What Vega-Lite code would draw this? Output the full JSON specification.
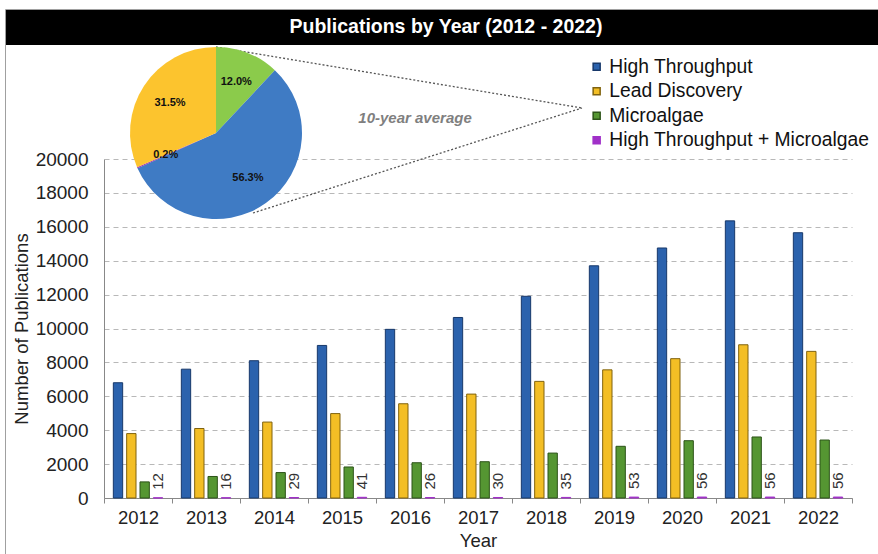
{
  "$schema": "https://vega.github.io/schema/vega-lite/v6.json",
  "width": 748,
  "height": 339,
  "autosize": {"type": "none"},
  "padding": {"left": 104, "top": 159, "right": 26, "bottom": 56},
  "background": "white",
  "config": {
    "view": {"stroke": null},
    "font": "Liberation Sans",
    "axisY": {
      "tickCount": 10,
      "format": "d",
      "ticks": false,
      "labelPadding": 16,
      "labelOverlap": false,
      "labelFontSize": 19,
      "labelColor": "#222",
      "titleFontSize": 18.5,
      "titleFontWeight": "normal",
      "titleColor": "#222",
      "titlePadding": 4,
      "domainColor": "#888",
      "grid": true,
      "gridDash": [5, 4],
      "gridColor": "#b8b8b8",
      "gridWidth": 1
    },
    "legend": {
      "orient": "none",
      "legendX": 483,
      "legendY": -102,
      "labelFontSize": 19.3,
      "labelColor": "#111",
      "labelFont": "Liberation Sans",
      "labelLimit": 0,
      "symbolType": "square",
      "symbolSize": 49,
      "rowPadding": 4.5,
      "labelOffset": 3
    }
  },
  "datasets": {
    "bars": [
      {"year": "2012", "series": "High Throughput", "count": 6800},
      {"year": "2012", "series": "Lead Discovery", "count": 3800},
      {"year": "2012", "series": "Microalgae", "count": 950},
      {"year": "2012", "series": "High Throughput + Microalgae", "count": 12},
      {"year": "2013", "series": "High Throughput", "count": 7600},
      {"year": "2013", "series": "Lead Discovery", "count": 4100},
      {"year": "2013", "series": "Microalgae", "count": 1270},
      {"year": "2013", "series": "High Throughput + Microalgae", "count": 16},
      {"year": "2014", "series": "High Throughput", "count": 8100},
      {"year": "2014", "series": "Lead Discovery", "count": 4480},
      {"year": "2014", "series": "Microalgae", "count": 1500},
      {"year": "2014", "series": "High Throughput + Microalgae", "count": 29},
      {"year": "2015", "series": "High Throughput", "count": 9000},
      {"year": "2015", "series": "Lead Discovery", "count": 4980},
      {"year": "2015", "series": "Microalgae", "count": 1830},
      {"year": "2015", "series": "High Throughput + Microalgae", "count": 41},
      {"year": "2016", "series": "High Throughput", "count": 9950},
      {"year": "2016", "series": "Lead Discovery", "count": 5560},
      {"year": "2016", "series": "Microalgae", "count": 2080},
      {"year": "2016", "series": "High Throughput + Microalgae", "count": 26},
      {"year": "2017", "series": "High Throughput", "count": 10650},
      {"year": "2017", "series": "Lead Discovery", "count": 6130},
      {"year": "2017", "series": "Microalgae", "count": 2140},
      {"year": "2017", "series": "High Throughput + Microalgae", "count": 30},
      {"year": "2018", "series": "High Throughput", "count": 11900},
      {"year": "2018", "series": "Lead Discovery", "count": 6880},
      {"year": "2018", "series": "Microalgae", "count": 2650},
      {"year": "2018", "series": "High Throughput + Microalgae", "count": 35},
      {"year": "2019", "series": "High Throughput", "count": 13700},
      {"year": "2019", "series": "Lead Discovery", "count": 7560},
      {"year": "2019", "series": "Microalgae", "count": 3050},
      {"year": "2019", "series": "High Throughput + Microalgae", "count": 53},
      {"year": "2020", "series": "High Throughput", "count": 14750},
      {"year": "2020", "series": "Lead Discovery", "count": 8220},
      {"year": "2020", "series": "Microalgae", "count": 3380},
      {"year": "2020", "series": "High Throughput + Microalgae", "count": 56},
      {"year": "2021", "series": "High Throughput", "count": 16350},
      {"year": "2021", "series": "Lead Discovery", "count": 9040},
      {"year": "2021", "series": "Microalgae", "count": 3600},
      {"year": "2021", "series": "High Throughput + Microalgae", "count": 56},
      {"year": "2022", "series": "High Throughput", "count": 15650},
      {"year": "2022", "series": "Lead Discovery", "count": 8650},
      {"year": "2022", "series": "Microalgae", "count": 3420},
      {"year": "2022", "series": "High Throughput + Microalgae", "count": 56}
    ],
    "pie": [
      {"series": "Microalgae", "share": 12.0, "label": "12.0%", "rank": 1},
      {"series": "High Throughput", "share": 56.3, "label": "56.3%", "rank": 2},
      {"series": "High Throughput + Microalgae", "share": 0.2, "label": "0.2%", "rank": 3},
      {"series": "Lead Discovery", "share": 31.5, "label": "31.5%", "rank": 4}
    ],
    "one": [{"k": 1}]
  },
  "resolve": {"scale": {"x": "independent", "color": "independent", "stroke": "independent"}},
  "layer": [
    {
      "data": {"name": "one"},
      "mark": {"type": "rect", "fill": "transparent", "stroke": "#a0a0a0", "strokeWidth": 1},
      "encoding": {
        "x": {"datum": 2010.0515, "type": "quantitative", "scale": {"domain": [2011.5, 2022.5], "nice": false, "zero": false}, "axis": null},
        "x2": {"datum": 2022.985},
        "y": {"datum": 28820, "type": "quantitative", "scale": {"domain": [0, 20000], "nice": false}},
        "y2": {"datum": -3658}
      }
    },
    {
      "data": {"name": "one"},
      "mark": {"type": "rect", "color": "#000000"},
      "encoding": {
        "x": {"datum": 2010.059, "type": "quantitative", "scale": {"domain": [2011.5, 2022.5], "nice": false, "zero": false}, "axis": null},
        "x2": {"datum": 2022.985},
        "y": {"datum": 28790.6, "type": "quantitative", "scale": {"domain": [0, 20000], "nice": false}},
        "y2": {"datum": 26725.7}
      }
    },
    {
      "data": {"name": "one"},
      "mark": {"type": "text", "text": "Publications by Year (2012 - 2022)", "color": "#ffffff", "fontSize": 19.5, "fontWeight": "bold", "font": "Liberation Sans", "align": "center", "baseline": "middle"},
      "encoding": {
        "x": {"datum": 2016.529, "type": "quantitative", "scale": {"domain": [2011.5, 2022.5], "nice": false, "zero": false}, "axis": null},
        "y": {"datum": 27787.6, "type": "quantitative", "scale": {"domain": [0, 20000], "nice": false}}
      }
    },
    {
      "data": {"name": "bars"},
      "mark": {"type": "bar", "strokeWidth": 1},
      "encoding": {
        "x": {
          "field": "year", "type": "ordinal",
          "scale": {"paddingInner": 0, "paddingOuter": 0},
          "axis": {
            "title": "Year", "labelAngle": 0, "tickBand": "extent",
            "labelFontSize": 18.5, "labelColor": "#222", "labelPadding": 5,
            "titleFontSize": 18.5, "titleFontWeight": "normal", "titleColor": "#222", "titlePadding": 5,
            "domainColor": "#888", "tickColor": "#888", "tickSize": 5
          }
        },
        "xOffset": {
          "field": "series", "type": "nominal",
          "scale": {"domain": ["High Throughput", "Lead Discovery", "Microalgae", "High Throughput + Microalgae"], "paddingInner": 0.3, "paddingOuter": 0.7}
        },
        "y": {
          "field": "count", "type": "quantitative",
          "scale": {"domain": [0, 20000], "nice": false},
          "title": "Number of Publications"
        },
        "color": {
          "field": "series", "type": "nominal",
          "scale": {"domain": ["High Throughput", "Lead Discovery", "Microalgae", "High Throughput + Microalgae"], "range": ["#2b62ad", "#f3be25", "#559632", "#a030c8"]},
          "legend": {"title": null}
        },
        "stroke": {
          "field": "series", "type": "nominal",
          "scale": {"domain": ["High Throughput", "Lead Discovery", "Microalgae", "High Throughput + Microalgae"], "range": ["#17386a", "#80630f", "#2c5318", "#a030c8"]},
          "legend": null
        }
      }
    },
    {
      "data": {"name": "bars"},
      "transform": [{"filter": "datum.series === 'High Throughput + Microalgae'"}],
      "mark": {"type": "text", "angle": 270, "align": "left", "baseline": "middle", "dx": 8, "fontSize": 15, "color": "#333"},
      "encoding": {
        "x": {"field": "year", "type": "ordinal", "scale": {"paddingInner": 0, "paddingOuter": 0}, "axis": null},
        "xOffset": {
          "field": "series", "type": "nominal",
          "scale": {"domain": ["High Throughput", "Lead Discovery", "Microalgae", "High Throughput + Microalgae"], "paddingInner": 0.3, "paddingOuter": 0.7}
        },
        "y": {"field": "count", "type": "quantitative", "scale": {"domain": [0, 20000], "nice": false}, "title": "Number of Publications"},
        "text": {"field": "count", "type": "quantitative"}
      }
    },
    {
      "data": {"name": "one"},
      "mark": {"type": "rule", "strokeDash": [2, 2], "color": "#555", "strokeWidth": 1.3},
      "encoding": {
        "x": {"datum": 2013.147, "type": "quantitative", "scale": {"domain": [2011.5, 2022.5], "nice": false, "zero": false}, "axis": null},
        "x2": {"datum": 2018.529},
        "y": {"datum": 26607.7, "type": "quantitative", "scale": {"domain": [0, 20000], "nice": false}},
        "y2": {"datum": 23008.9}
      }
    },
    {
      "data": {"name": "one"},
      "mark": {"type": "rule", "strokeDash": [2, 2], "color": "#555", "strokeWidth": 1.3},
      "encoding": {
        "x": {"datum": 2013.691, "type": "quantitative", "scale": {"domain": [2011.5, 2022.5], "nice": false, "zero": false}, "axis": null},
        "x2": {"datum": 2018.529},
        "y": {"datum": 16814.2, "type": "quantitative", "scale": {"domain": [0, 20000], "nice": false}},
        "y2": {"datum": 23008.9}
      }
    },
    {
      "data": {"name": "pie"},
      "mark": {"type": "arc", "radius": 86},
      "encoding": {
        "theta": {"field": "share", "type": "quantitative", "stack": true},
        "order": {"field": "rank", "type": "quantitative"},
        "color": {
          "field": "series", "type": "nominal",
          "scale": {"domain": ["High Throughput", "Lead Discovery", "Microalgae", "High Throughput + Microalgae"], "range": ["#3f7bc4", "#fcc42e", "#8bcb4b", "#9a30b0"]},
          "legend": null
        },
        "x": {"datum": 2013.147, "type": "quantitative", "scale": {"domain": [2011.5, 2022.5], "nice": false, "zero": false}, "axis": null},
        "y": {"datum": 21534, "type": "quantitative", "scale": {"domain": [0, 20000], "nice": false}}
      }
    },
    {
      "data": {"name": "pie"},
      "mark": {"type": "text", "radius": 55, "fontSize": 11, "fontWeight": "bold", "color": "#111", "align": "center", "baseline": "middle"},
      "encoding": {
        "theta": {"field": "share", "type": "quantitative", "stack": true},
        "order": {"field": "rank", "type": "quantitative"},
        "text": {"field": "label", "type": "nominal"},
        "x": {"datum": 2013.147, "type": "quantitative", "scale": {"domain": [2011.5, 2022.5], "nice": false, "zero": false}, "axis": null},
        "y": {"datum": 21534, "type": "quantitative", "scale": {"domain": [0, 20000], "nice": false}}
      }
    },
    {
      "data": {"name": "one"},
      "mark": {"type": "text", "text": "10-year average", "color": "#7f7f7f", "fontSize": 15, "fontWeight": "bold", "fontStyle": "italic", "align": "center", "baseline": "middle"},
      "encoding": {
        "x": {"datum": 2016.074, "type": "quantitative", "scale": {"domain": [2011.5, 2022.5], "nice": false, "zero": false}, "axis": null},
        "y": {"datum": 22418.9, "type": "quantitative", "scale": {"domain": [0, 20000], "nice": false}}
      }
    }
  ]
}
